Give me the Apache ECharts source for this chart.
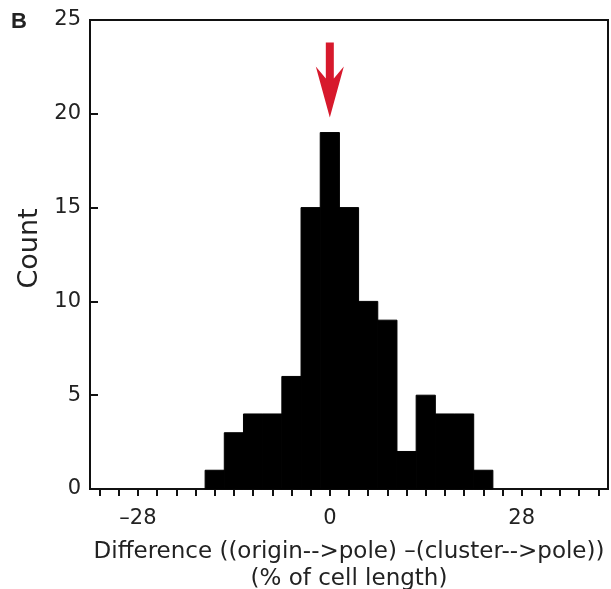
<!DOCTYPE html>
<html>
<head>
<meta charset="utf-8">
<script src="https://cdn.jsdelivr.net/npm/echarts@6/dist/echarts.min.js"></script>
<style>html,body{margin:0;padding:0;background:#fff;}#c{width:611px;height:589px;}</style>
</head>
<body>
<div id="c"></div>
<script>
// Histogram data
const binCenters = [-16.8, -14, -11.2, -8.4, -5.6, -2.8, 0, 2.8, 5.6, 8.4, 11.2, 14, 16.8, 19.6, 22.4];
const counts     = [1, 3, 4, 4, 6, 15, 19, 15, 10, 9, 2, 5, 4, 4, 1];
const binWidth = 2.8;
const xTickValues = [-33.6, -30.8, -28, -25.2, -22.4, -19.6, -16.8, -14, -11.2, -8.4, -5.6, -2.8, 0,
  2.8, 5.6, 8.4, 11.2, 14, 16.8, 19.6, 22.4, 25.2, 28, 30.8, 33.6, 36.4, 39.2];
const xLabelValues = [-28, 0, 28];
const yTicks = [0, 5, 10, 15, 20, 25];
const arrowX = 0;
const arrowTopVal = 23.8;
const arrowTipVal = 19.8;

const FONT = '"DejaVu Sans", "Liberation Sans", Arial, sans-serif';
const chart = echarts.init(document.getElementById('c'), null, {renderer: 'canvas'});

const option = {
  backgroundColor: '#fff',
  animation: false,
  grid: {left: 90, right: 3, top: 20, bottom: 100, containLabel: false, outerBoundsMode: 'none',
    show: true, borderColor: '#111', borderWidth: 2, backgroundColor: 'transparent'},
  xAxis: {
    type: 'value', min: -35, max: 40.6,
    splitLine: {show: false},
    axisLine: {show: true, onZero: false, lineStyle: {color: '#111', width: 2}},
    axisTick: {show: true, inside: false, length: 7, lineStyle: {color: '#111', width: 2}, customValues: xTickValues},
    axisLabel: {customValues: xLabelValues, fontSize: 21, color: '#222', fontFamily: FONT, margin: 19,
      formatter: v => (v < 0 ? '\u2013' + Math.abs(v) : String(v))},
    name: 'Difference ((origin-->pole) \u2013(cluster-->pole))\n(% of cell length)',
    nameLocation: 'middle', nameGap: 50,
    nameTextStyle: {fontSize: 23, color: '#222', fontFamily: FONT, lineHeight: 27, align: 'center'}
  },
  yAxis: {
    type: 'value', min: 0, max: 25, interval: 5,
    splitLine: {show: false},
    axisLine: {show: true, onZero: false, lineStyle: {color: '#111', width: 2}},
    axisTick: {show: true, inside: true, length: 8, lineStyle: {color: '#111', width: 2}, customValues: yTicks},
    axisLabel: {fontSize: 21, color: '#222', fontFamily: FONT, margin: 9, customValues: yTicks},
    name: 'Count', nameLocation: 'middle', nameGap: 40,
    nameTextStyle: {fontSize: 27, color: '#222', fontFamily: FONT, padding: [0, 0, 0, 12]}
  },
  series: [{
    type: 'custom',
    data: binCenters.map((c, i) => [c, counts[i]]),
    renderItem: function (params, api) {
      const c = api.value(0), v = api.value(1);
      const p0 = api.coord([c - binWidth / 2, v]);
      const p1 = api.coord([c + binWidth / 2, 0]);
      return {type: 'rect', shape: {x: p0[0], y: p0[1], width: p1[0] - p0[0], height: p1[1] - p0[1]},
        style: {fill: '#000', stroke: '#000', lineWidth: 1}};
    }
  }]
};
chart.setOption(option);

// red arrow annotation positioned from data coordinates
const pTop = chart.convertToPixel({gridIndex: 0}, [arrowX, arrowTopVal]);
const pTip = chart.convertToPixel({gridIndex: 0}, [arrowX, arrowTipVal]);
const cx = pTip[0], ty = pTip[1], yt = pTop[1];
const L = ty - yt;
chart.setOption({graphic: [
  {type: 'text', left: 11, top: 11, style: {text: 'B', font: 'bold 22px "Liberation Sans", Arial, sans-serif', fill: '#222'}},
  {type: 'polygon', shape: {points: [
    [cx - 4, yt], [cx + 4, yt], [cx + 4, yt + L * 0.48], [cx + 14, yt + L * 0.32],
    [cx, ty], [cx - 14, yt + L * 0.32], [cx - 4, yt + L * 0.48]
  ]}, style: {fill: '#d7192c'}, z: 100}
]});
</script>
</body>
</html>
